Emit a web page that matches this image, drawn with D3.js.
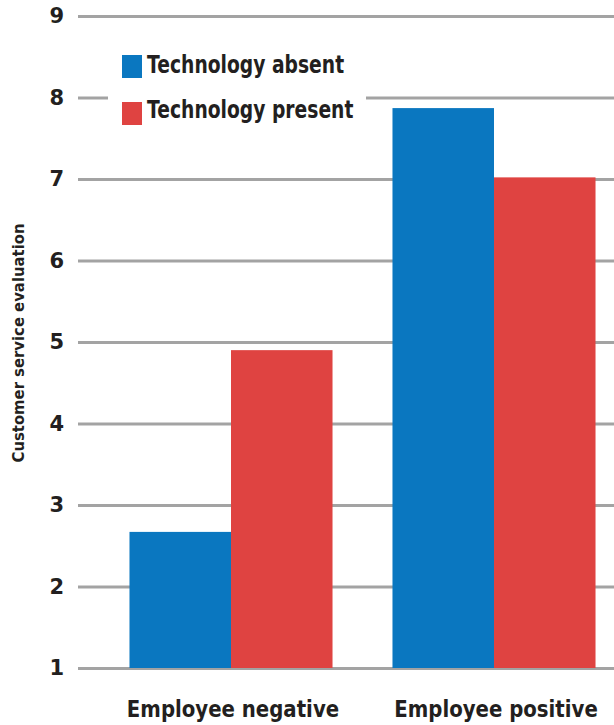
<!DOCTYPE html>
<html>
<head>
<meta charset="utf-8">
<script src="https://cdn.jsdelivr.net/npm/d3@7"></script>
<style>
  body { margin: 0; background: #fff; }
  text { font-family: "DejaVu Sans", sans-serif; font-weight: bold; fill: #231f20; }
</style>
</head>
<body>
<script>
// data
const categories = ["Employee negative", "Employee positive"];
const series = ["Technology absent", "Technology present"];
const absentValues = [2.67, 7.87];
const presentValues = [4.9, 7.02];
const yTicks = [1, 2, 3, 4, 5, 6, 7, 8, 9];
const yTitle = "Customer service evaluation";

const colors = { "Technology absent": "#0a77c0", "Technology present": "#df4341" };

const w = 614, h = 725;

const svg = d3.select("body")
        .append("svg")
        .attr("width", w)
        .attr("height", h);

const rows = categories.map((c, i) => ({
        cat: c,
        values: [
                { key: series[0], value: absentValues[i] },
                { key: series[1], value: presentValues[i] }
        ]
}));

const yScale = d3.scaleLinear()
        .domain([1, 9])
        .range([668, 16]);

const x0 = d3.scaleBand()
        .domain(categories)
        .range([99.5, 625.5])
        .paddingInner(0.228)
        .paddingOuter(0.114);

const x1 = d3.scaleBand()
        .domain(series)
        .range([0, x0.bandwidth()]);

// gridlines + tick labels
const yAxis = d3.axisLeft(yScale)
        .tickValues(yTicks)
        .tickSize(-(w - 78))
        .tickPadding(14)
        .tickFormat(d3.format("d"));

const yAxisG = svg.append("g")
        .attr("transform", "translate(78,0)")
        .call(yAxis);
yAxisG.select(".domain").remove();
yAxisG.selectAll(".tick line")
        .attr("stroke", "#a3a3a3")
        .attr("stroke-width", 3);
yAxisG.selectAll(".tick text")
        .style("font-size", "21px")
        .attr("fill", "#231f20");

// y title
svg.append("text")
        .text(yTitle)
        .attr("transform", "translate(24,343) rotate(-90) scale(0.9,1)")
        .attr("text-anchor", "middle")
        .style("font-size", "16.5px");

// bars
const groups = svg.selectAll(".group")
        .data(rows)
        .enter()
        .append("g")
        .attr("transform", d => `translate(${x0(d.cat)},0)`);

groups.selectAll("rect")
        .data(d => d.values)
        .enter()
        .append("rect")
        .attr("x", d => x1(d.key))
        .attr("y", d => yScale(d.value))
        .attr("width", x1.bandwidth())
        .attr("height", d => yScale(1) - yScale(d.value))
        .attr("fill", d => colors[d.key]);

// category labels (squeezed to look condensed)
svg.selectAll(".cat")
        .data(categories)
        .enter()
        .append("text")
        .text(d => d)
        .attr("transform", d => `translate(${x0(d) + x0.bandwidth() / 2 + 2},717) scale(0.84,1)`)
        .attr("text-anchor", "middle")
        .style("font-size", "23.5px");

// Legend
const legend = svg.append("g");
legend.append("rect")
        .attr("x", 108)
        .attr("y", 42)
        .attr("width", 258)
        .attr("height", 90)
        .attr("fill", "#fff");

legend.selectAll(".sw")
        .data(series)
        .enter()
        .append("rect")
        .attr("x", 122)
        .attr("y", (d, i) => 55 + i * 47)
        .attr("width", 20)
        .attr("height", 23)
        .attr("fill", d => colors[d]);

legend.selectAll(".lt")
        .data(series)
        .enter()
        .append("text")
        .text(d => d)
        .attr("transform", (d, i) => `translate(147,${73 + i * 45}) scale(0.78,1)`)
        .style("font-size", "24px");
</script>
</body>
</html>
